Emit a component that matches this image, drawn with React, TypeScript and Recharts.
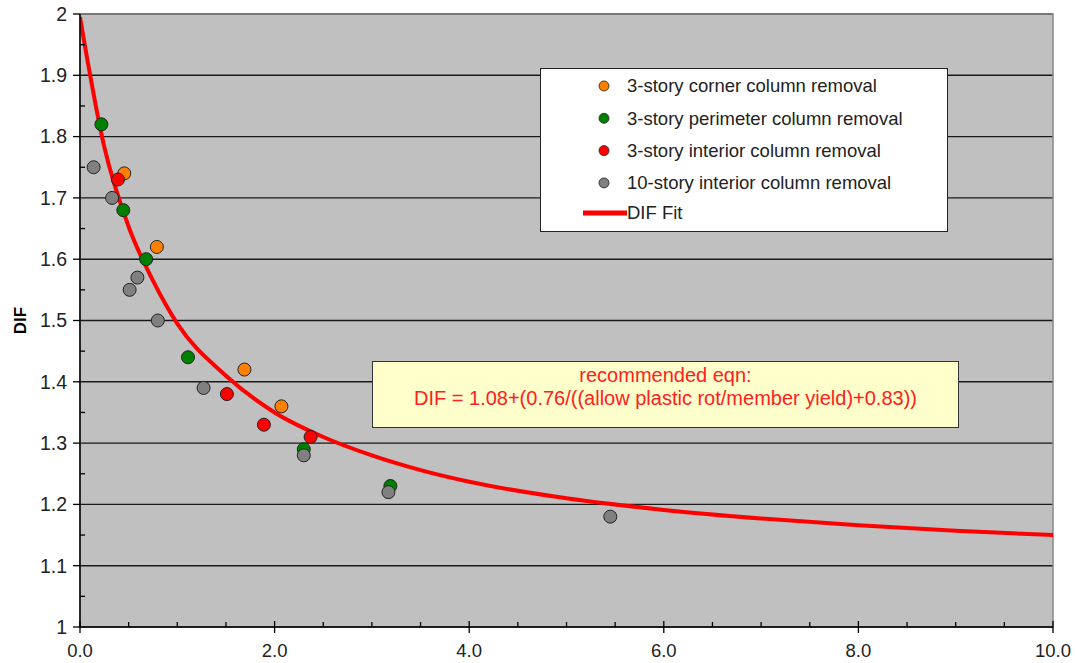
import React from "react";
import {
  ComposedChart,
  XAxis,
  YAxis,
  CartesianGrid,
  Line,
  Scatter,
  ReferenceArea,
} from "recharts";

// ---- data ----
const cornerX = [0.455, 0.79, 1.69, 2.07];
const cornerY = [1.74, 1.62, 1.42, 1.36];

const perimeterX = [0.22, 0.445, 0.68, 1.11, 2.3, 3.19];
const perimeterY = [1.82, 1.68, 1.6, 1.44, 1.29, 1.23];

const interiorX = [0.39, 1.51, 1.89, 2.37];
const interiorY = [1.73, 1.38, 1.33, 1.31];

const tenStoryX = [0.14, 0.33, 0.59, 0.51, 0.8, 1.27, 2.3, 3.17, 5.45];
const tenStoryY = [1.75, 1.7, 1.57, 1.55, 1.5, 1.39, 1.28, 1.22, 1.18];

const fitX = [0, 0.25, 0.5, 0.75, 1, 1.5, 2, 2.5, 3, 3.5, 4, 5, 6, 7, 8, 9, 10];
const fitY = [1.995, 1.783, 1.653, 1.565, 1.495, 1.41, 1.35, 1.31, 1.28, 1.256, 1.237, 1.21, 1.191, 1.177, 1.166, 1.157, 1.15];

const xTicks = [0, 0.5, 1, 1.5, 2, 2.5, 3, 3.5, 4, 4.5, 5, 5.5, 6, 6.5, 7, 7.5, 8, 8.5, 9, 9.5, 10];
const xMajorLabels: Record<string, string> = { "0": "0.0", "2": "2.0", "4": "4.0", "6": "6.0", "8": "8.0", "10": "10.0" };
const yTicks = [1, 1.05, 1.1, 1.15, 1.2, 1.25, 1.3, 1.35, 1.4, 1.45, 1.5, 1.55, 1.6, 1.65, 1.7, 1.75, 1.8, 1.85, 1.9, 1.95, 2];
const yMajor = [1, 1.1, 1.2, 1.3, 1.4, 1.5, 1.6, 1.7, 1.8, 1.9, 2];
const yMajorLabels = ["1", "1.1", "1.2", "1.3", "1.4", "1.5", "1.6", "1.7", "1.8", "1.9", "2"];

const seriesNames = [
  "3-story corner column removal",
  "3-story perimeter column removal",
  "3-story interior column removal",
  "10-story interior column removal",
];
const seriesColors = ["#FF8000", "#008000", "#FF0000", "#808080"];
const fitName = "DIF Fit";
const eqnLine1 = "recommended eqn:";
const eqnLine2 = "DIF = 1.08+(0.76/((allow plastic rot/member yield)+0.83))";

const toPts = (xs: number[], ys: number[]) => xs.map((x, i) => ({ x, y: ys[i] }));
const seriesData = [
  toPts(cornerX, cornerY),
  toPts(perimeterX, perimeterY),
  toPts(interiorX, interiorY),
  toPts(tenStoryX, tenStoryY),
];
const fitData = toPts(fitX, fitY);

const FONT = "'Liberation Sans', Arial, sans-serif";

const isMult = (v: number, step: number) => Math.abs(v / step - Math.round(v / step)) < 1e-6;

const XTick = (props: any) => {
  const { x, y, payload } = props;
  const v = payload.value as number;
  const major = isMult(v, 2);
  return (
    <g>
      {major ? (
        <line x1={x} x2={x} y1={y - 6} y2={y + 6} stroke="#000" strokeWidth={1.3} />
      ) : (
        <line x1={x} x2={x} y1={y - 5} y2={y} stroke="#000" strokeWidth={1.3} />
      )}
      {major && (
        <text x={x} y={y + 30} textAnchor="middle" fontSize={18.5} fill="#222" fontFamily={FONT}>
          {xMajorLabels[String(Math.round(v))]}
        </text>
      )}
    </g>
  );
};

const YTick = (props: any) => {
  const { x, y, payload } = props;
  const v = payload.value as number;
  const idx = yMajor.findIndex((m) => Math.abs(m - v) < 1e-6);
  const major = idx >= 0;
  return (
    <g>
      {major ? (
        <line x1={x - 7} x2={x} y1={y} y2={y} stroke="#000" strokeWidth={1.3} />
      ) : (
        <line x1={x} x2={x + 5} y1={y} y2={y} stroke="#000" strokeWidth={1.3} />
      )}
      {major && (
        <text x={x - 13} y={y} dy="0.35em" textAnchor="end" fontSize={19.5} fill="#222" fontFamily={FONT}>
          {yMajorLabels[idx]}
        </text>
      )}
    </g>
  );
};

const makeDot = (color: string) => (p: any) =>
  <circle cx={p.cx} cy={p.cy} r={6.5} fill={color} stroke="#222" strokeWidth={1} />;

export default function App() {
  return (
    <div style={{ position: "absolute", left: 0, top: 0, width: 1075, height: 663, background: "#fff" }}>
      <ComposedChart
        width={1075}
        height={663}
        margin={{ top: 14, right: 22, bottom: 0, left: 0 }}
      >
        <CartesianGrid
          horizontal={true}
          vertical={false}
          horizontalValues={yMajor}
          fill="#C0C0C0"
          fillOpacity={1}
          stroke="#1a1a1a"
          strokeWidth={1.4}
        />
        <ReferenceArea x1={0} x2={10} y1={1} y2={2} fill="none" stroke="#888" strokeWidth={1.5} ifOverflow="visible" />
        <XAxis
          type="number"
          dataKey="x"
          domain={[0, 10]}
          ticks={xTicks}
          interval={0}
          allowDataOverflow
          height={36}
          tickSize={0}
          tickMargin={0}
          tickLine={false}
          tick={<XTick />}
          axisLine={{ stroke: "#000", strokeWidth: 1.5 }}
        />
        <YAxis
          type="number"
          dataKey="y"
          domain={[1, 2]}
          ticks={yTicks}
          interval={0}
          allowDataOverflow
          width={80}
          tickSize={0}
          tickMargin={0}
          tickLine={false}
          tick={<YTick />}
          axisLine={{ stroke: "#000", strokeWidth: 1.5 }}
          label={{
            value: "DIF",
            angle: -90,
            position: "center",
            dx: -20,
            style: { fontSize: 17, fontWeight: "bold", fill: "#000", fontFamily: FONT },
          }}
        />
        <Line
          data={fitData}
          dataKey="y"
          type="monotone"
          stroke="#FF0000"
          strokeWidth={4}
          dot={false}
          activeDot={false}
          isAnimationActive={false}
          name={fitName}
        />
        {seriesData.map((d, i) => (
          <Scatter
            key={seriesNames[i]}
            name={seriesNames[i]}
            data={d}
            fill={seriesColors[i]}
            shape={makeDot(seriesColors[i])}
            isAnimationActive={false}
          />
        ))}
      </ComposedChart>

      {/* Legend */}
      <div
        style={{
          position: "absolute",
          left: 540,
          top: 68,
          width: 408,
          height: 164,
          boxSizing: "border-box",
          border: "1.5px solid #222",
          background: "#fff",
        }}
      >
        <svg width={405} height={161} style={{ position: "absolute", left: 0, top: 0 }}>
          {seriesNames.map((n, i) => (
            <g key={n}>
              <circle cx={63} cy={17 + i * 32.3} r={5} fill={seriesColors[i]} stroke="#222" strokeWidth={0.8} />
              <text x={86} y={17 + i * 32.3} dy="0.35em" fontSize={18.5} fill="#222" fontFamily={FONT}>
                {n}
              </text>
            </g>
          ))}
          <line x1={42} x2={86} y1={144} y2={144} stroke="#FF0000" strokeWidth={5} />
          <text x={86} y={144} dy="0.35em" fontSize={18.5} fill="#222" fontFamily={FONT}>
            {fitName}
          </text>
        </svg>
      </div>

      {/* Equation box */}
      <div
        style={{
          position: "absolute",
          left: 372,
          top: 361,
          width: 587,
          height: 67,
          boxSizing: "border-box",
          border: "1.5px solid #333",
          background: "#FFFFCC",
          color: "#FF2020",
          fontFamily: FONT,
          fontSize: 20,
          textAlign: "center",
          lineHeight: "23px",
          paddingTop: 2,
        }}
      >
        <div>{eqnLine1}</div>
        <div>{eqnLine2}</div>
      </div>
    </div>
  );
}
